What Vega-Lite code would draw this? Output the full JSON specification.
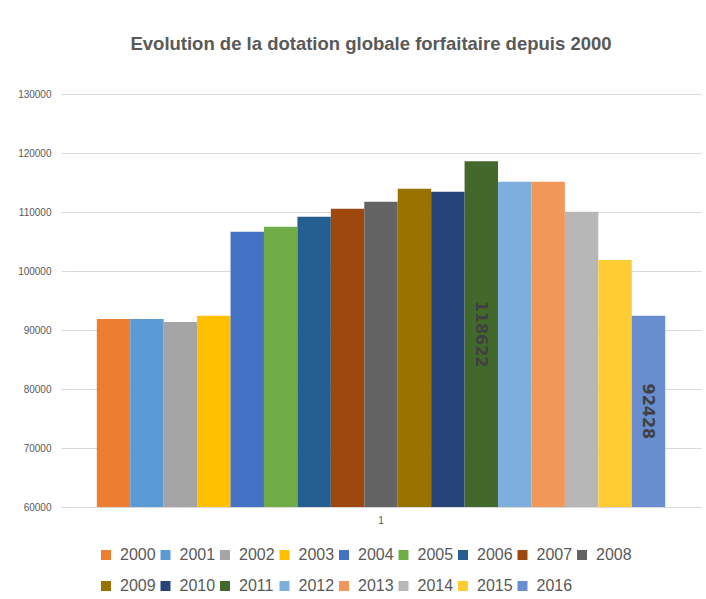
{
  "$schema": "https://vega.github.io/schema/vega-lite/v6.json",
  "autosize": "none",
  "width": 640,
  "height": 413,
  "padding": {"left": 61, "top": 94, "right": 5, "bottom": 92},
  "background": "white",
  "title": {
    "text": "Evolution de la dotation globale forfaitaire depuis 2000",
    "fontSize": 18.5,
    "fontWeight": "bold",
    "font": "Liberation Sans",
    "color": "#595959",
    "anchor": "middle",
    "dx": -10,
    "offset": 36
  },
  "data": {
    "values": [
      {"cat": "1", "annee": "2000", "valeur": 91870},
      {"cat": "1", "annee": "2001", "valeur": 91870},
      {"cat": "1", "annee": "2002", "valeur": 91360},
      {"cat": "1", "annee": "2003", "valeur": 92400},
      {"cat": "1", "annee": "2004", "valeur": 106640},
      {"cat": "1", "annee": "2005", "valeur": 107490},
      {"cat": "1", "annee": "2006", "valeur": 109190},
      {"cat": "1", "annee": "2007", "valeur": 110550},
      {"cat": "1", "annee": "2008", "valeur": 111740},
      {"cat": "1", "annee": "2009", "valeur": 113950},
      {"cat": "1", "annee": "2010", "valeur": 113440},
      {"cat": "1", "annee": "2011", "valeur": 118622, "label": "118622"},
      {"cat": "1", "annee": "2012", "valeur": 115140},
      {"cat": "1", "annee": "2013", "valeur": 115140},
      {"cat": "1", "annee": "2014", "valeur": 110030},
      {"cat": "1", "annee": "2015", "valeur": 101880},
      {"cat": "1", "annee": "2016", "valeur": 92428, "label": "92428"}
    ]
  },
  "encoding": {
    "x": {
      "field": "cat",
      "type": "nominal",
      "scale": {"paddingOuter": 0.063, "paddingInner": 0},
      "axis": {
        "title": null,
        "labelAngle": 0,
        "labelFontSize": 10,
        "labelColor": "#595959",
        "labelFont": "Liberation Sans",
        "ticks": false,
        "domainColor": "#d9d9d9",
        "domainWidth": 1,
        "labelPadding": 8
      }
    },
    "xOffset": {
      "field": "annee",
      "type": "nominal",
      "scale": {"paddingInner": 0, "paddingOuter": 0}
    }
  },
  "layer": [
    {
      "mark": {"type": "bar"},
      "encoding": {
        "y": {
          "field": "valeur",
          "type": "quantitative",
          "scale": {"domain": [60000, 130000], "zero": false, "nice": false},
          "axis": {
            "title": null,
            "values": [60000, 70000, 80000, 90000, 100000, 110000, 120000, 130000],
            "format": "d",
            "labelFontSize": 10,
            "labelColor": "#595959",
            "labelFont": "Liberation Sans",
            "ticks": false,
            "domain": false,
            "labelPadding": 10,
            "gridColor": "#d9d9d9",
            "gridWidth": 1
          }
        },
        "y2": {"datum": 60000},
        "color": {
          "field": "annee",
          "type": "nominal",
          "scale": {
            "range": ["#ED7D31", "#5B9BD5", "#A5A5A5", "#FFC000", "#4472C4", "#70AD47", "#255E91", "#9E480E", "#636363", "#997300", "#264478", "#43682B", "#7CAFDD", "#F1975A", "#B7B7B7", "#FFCD33", "#698ED0"]
          },
          "legend": {
            "title": null,
            "orient": "none",
            "legendX": 37,
            "legendY": 453,
            "direction": "horizontal",
            "columns": 9,
            "symbolType": "square",
            "symbolSize": 100,
            "symbolStrokeWidth": 0,
            "labelFontSize": 16,
            "labelFont": "Liberation Sans",
            "labelColor": "#595959",
            "labelOffset": 6,
            "columnPadding": 1.5,
            "rowPadding": 15
          }
        }
      }
    },
    {
      "transform": [
        {"filter": "isValid(datum.label)"},
        {"calculate": "(datum.valeur + 60000) / 2", "as": "milieu"}
      ],
      "mark": {
        "type": "text",
        "angle": 90,
        "align": "center",
        "baseline": "middle",
        "fontSize": 16,
        "fontWeight": "bold",
        "font": "DejaVu Sans",
        "color": "#404040"
      },
      "encoding": {
        "y": {"field": "milieu", "type": "quantitative"},
        "text": {"field": "label"}
      }
    }
  ],
  "config": {
    "view": {"stroke": null}
  }
}
